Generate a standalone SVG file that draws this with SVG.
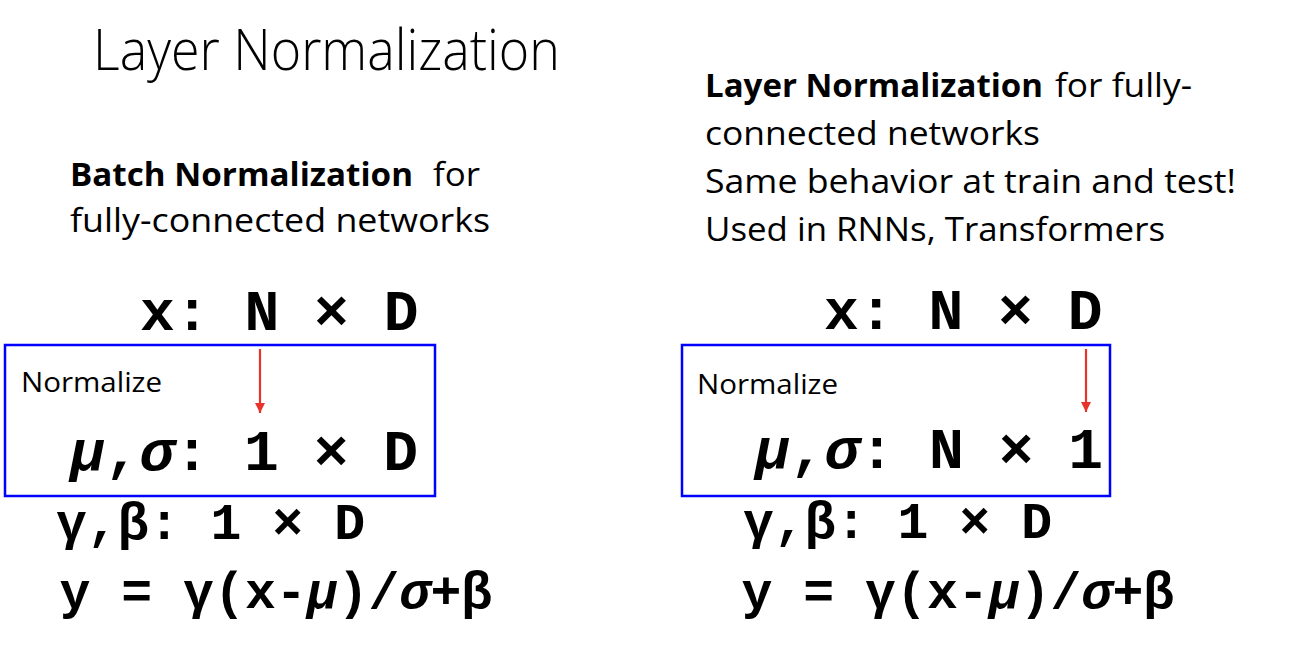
<svg xmlns="http://www.w3.org/2000/svg" width="1306" height="654" viewBox="0 0 1306 654">
<defs>
<style>
.title{font-family:"Open Sans","Noto Sans","Liberation Sans",sans-serif;font-weight:300;font-size:57px;fill:#000}
.body{font-family:"Open Sans","Noto Sans","Liberation Sans",sans-serif;font-size:33px;fill:#000}
.b{font-weight:700}
.lbl{font-family:"Open Sans","Noto Sans","Liberation Sans",sans-serif;font-size:27px;fill:#000}
.mono{font-family:"Liberation Mono","Courier New",monospace;font-weight:700;fill:#000}
.big{font-size:58px}
.sm{font-size:51.5px}
.it{font-style:italic}
.box{fill:none;stroke:#0000ff;stroke-width:2.5}
.arr{stroke:#e8332a;stroke-width:2.2;fill:none}
</style>
<marker id="ah" markerUnits="userSpaceOnUse" markerWidth="12" markerHeight="12" viewBox="0 0 12 12" refX="10" refY="6" orient="auto">
<path d="M0,1 L10,6 L0,11 Z" fill="#e8332a"/>
</marker>
</defs>
<rect width="1306" height="654" fill="#fff"/>
<g id="title">
<text class="title" x="93" y="70" textLength="467" lengthAdjust="spacingAndGlyphs">Layer Normalization</text>
</g>
<g id="batchnorm-desc">
<text class="body" x="70" y="186" xml:space="preserve"><tspan class="b" textLength="343" lengthAdjust="spacingAndGlyphs">Batch Normalization</tspan><tspan x="433" textLength="47" lengthAdjust="spacingAndGlyphs">for</tspan></text>
<text class="body" x="70" y="232" textLength="420" lengthAdjust="spacingAndGlyphs">fully-connected networks</text>
</g>
<g id="layernorm-desc">
<text class="body" x="705" y="97"><tspan class="b" textLength="338" lengthAdjust="spacingAndGlyphs">Layer Normalization</tspan><tspan x="1055" textLength="137" lengthAdjust="spacingAndGlyphs">for fully-</tspan></text>
<text class="body" x="705" y="145" textLength="335" lengthAdjust="spacingAndGlyphs">connected networks</text>
<text class="body" x="705" y="193" textLength="531" lengthAdjust="spacingAndGlyphs">Same behavior at train and test!</text>
<text class="body" x="705" y="241" textLength="460" lengthAdjust="spacingAndGlyphs">Used in RNNs, Transformers</text>
</g>
<g id="left-box">
<rect class="box" x="5" y="345" width="430" height="151"/>
<text class="lbl" x="21" y="392" textLength="141" lengthAdjust="spacingAndGlyphs">Normalize</text>
</g>
<g id="right-box">
<rect class="box" x="682" y="345" width="428" height="151"/>
<text class="lbl" x="697" y="394" textLength="141" lengthAdjust="spacingAndGlyphs">Normalize</text>
</g>
<g id="left-formulas">
<text class="mono big" x="140" y="330" xml:space="preserve">x: N × D</text>
<text class="mono big" x="70" y="470" xml:space="preserve"><tspan class="it">μ</tspan>,<tspan class="it">σ</tspan>: 1 × D</text>
<text class="mono sm" x="56" y="539" xml:space="preserve">γ,β: 1 × D</text>
<text class="mono sm" x="59.5" y="608" xml:space="preserve">y = γ(x-<tspan class="it">μ</tspan>)/<tspan class="it">σ</tspan>+β</text>
</g>
<g id="right-formulas">
<text class="mono big" x="824" y="329" xml:space="preserve">x: N × D</text>
<text class="mono big" x="755" y="468" xml:space="preserve"><tspan class="it">μ</tspan>,<tspan class="it">σ</tspan>: N × 1</text>
<text class="mono sm" x="743" y="538" xml:space="preserve">γ,β: 1 × D</text>
<text class="mono sm" x="741.5" y="608" xml:space="preserve">y = γ(x-<tspan class="it">μ</tspan>)/<tspan class="it">σ</tspan>+β</text>
</g>
<g id="connectors">
<line class="arr" x1="260" y1="349" x2="260" y2="413" marker-end="url(#ah)"/>
<line class="arr" x1="1086" y1="349" x2="1086" y2="412" marker-end="url(#ah)"/>
</g>
</svg>
